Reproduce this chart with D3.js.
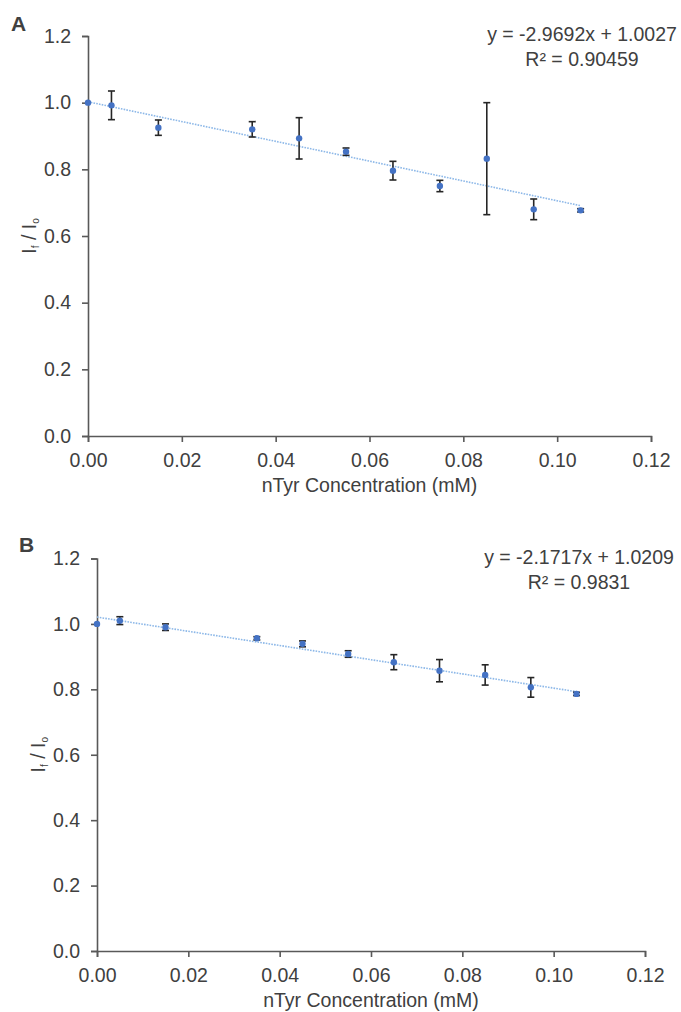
<!DOCTYPE html>
<html>
<head>
<meta charset="utf-8">
<script src="https://cdn.jsdelivr.net/npm/d3@7"></script>
<style>
    body { margin: 0; background: #fff; }
    text { font-family: "Liberation Sans", Arial, sans-serif; fill: #404040; }
</style>
</head>
<body>
<div id="chart"></div>
<script>
(function () {

    const conc = [0, 0.005, 0.015, 0.035, 0.045, 0.055, 0.065, 0.075, 0.085, 0.095, 0.105]

    const ratioA = [1.0, 0.992, 0.925, 0.920, 0.893, 0.853, 0.796, 0.750, 0.832, 0.680, 0.677]
    const errA = [0, 0.043, 0.023, 0.023, 0.062, 0.011, 0.028, 0.017, 0.168, 0.031, 0.005]
    const fitA = [-2.9692, 1.0027]
    const eqA = ["y = -2.9692x + 1.0027", "R² = 0.90459"]

    const ratioB = [1.0, 1.010, 0.990, 0.956, 0.939, 0.908, 0.883, 0.857, 0.844, 0.806, 0.786]
    const errB = [0, 0.012, 0.010, 0.005, 0.009, 0.010, 0.023, 0.034, 0.031, 0.030, 0.005]
    const fitB = [-2.1717, 1.0209]
    const eqB = ["y = -2.1717x + 1.0209", "R² = 0.9831"]

    const xTicks = [0, 0.02, 0.04, 0.06, 0.08, 0.10, 0.12]
    const yTicks = [0, 0.2, 0.4, 0.6, 0.8, 1.0, 1.2]

    const fontSize = 19.5

    const svg = d3.select("#chart")
        .append("svg")
        .attr("width", 681)
        .attr("height", 1012);

    function drawPanel(p) {
        const x = d3.scaleLinear().domain([0, 0.12]).range([p.left, p.right])
        const y = d3.scaleLinear().domain([0, 1.2]).range([p.bottom, p.top])
        const g = svg.append("g")

        const yAxis = g.append("g")
            .attr("transform", `translate(${p.left},0)`)
            .call(d3.axisLeft(y).tickValues(yTicks).tickFormat(d3.format(".1f")).tickSize(6).tickPadding(11))
        const xAxis = g.append("g")
            .attr("transform", `translate(0,${p.bottom})`)
            .call(d3.axisBottom(x).tickValues(xTicks).tickFormat(d3.format(".2f")).tickSize(6).tickPadding(11))

        for (const ax of [xAxis, yAxis]) {
            ax.selectAll("path, line").attr("stroke", "#595959").attr("stroke-width", 1.6)
            ax.selectAll("text").style("font-size", `${fontSize}px`).attr("fill", "#404040")
        }

        // trend line
        g.append("line")
            .attr("x1", x(0)).attr("y1", y(p.fit[1]))
            .attr("x2", x(conc[conc.length - 1]))
            .attr("y2", y(p.fit[0] * conc[conc.length - 1] + p.fit[1]))
            .attr("stroke", "#8db8e8")
            .attr("stroke-width", 1.6)
            .attr("stroke-dasharray", "1.6,1.2")

        const rows = conc.map((c, i) => ({ c, v: p.vals[i], e: p.errs[i] }))

        const bars = g.append("g")
            .selectAll("g")
            .data(rows.filter(d => d.e > 0))
            .enter()
            .append("g")
            .attr("stroke", "#262626")
            .attr("stroke-width", 1.6)
        bars.append("line")
            .attr("x1", d => x(d.c)).attr("x2", d => x(d.c))
            .attr("y1", d => y(d.v + d.e)).attr("y2", d => y(d.v - d.e))
        bars.append("line")
            .attr("x1", d => x(d.c) - 3.5).attr("x2", d => x(d.c) + 3.5)
            .attr("y1", d => y(d.v + d.e)).attr("y2", d => y(d.v + d.e))
        bars.append("line")
            .attr("x1", d => x(d.c) - 3.5).attr("x2", d => x(d.c) + 3.5)
            .attr("y1", d => y(d.v - d.e)).attr("y2", d => y(d.v - d.e))

        g.append("g")
            .selectAll("circle")
            .data(rows)
            .enter()
            .append("circle")
            .attr("cx", d => x(d.c))
            .attr("cy", d => y(d.v))
            .attr("r", 3.2)
            .attr("fill", "#4472c4")

        // equation
        g.selectAll("text.eq")
            .data(p.eq)
            .enter()
            .append("text")
            .attr("class", "eq")
            .attr("x", p.eqX)
            .attr("y", (d, i) => p.eqY + i * 25)
            .attr("text-anchor", "middle")
            .style("font-size", `${fontSize}px`)
            .text(d => d)

        // panel letter
        g.append("text")
            .attr("x", p.letterX).attr("y", p.letterY)
            .style("font-size", "21px")
            .style("font-weight", "bold")
            .attr("fill", "#000")
            .text(p.letter)

        // axis titles
        g.append("text")
            .attr("x", (p.left + p.right) / 2)
            .attr("y", p.bottom + 56)
            .attr("text-anchor", "middle")
            .style("font-size", `${fontSize}px`)
            .text("nTyr Concentration (mM)")

        const yl = g.append("text")
            .attr("transform", `translate(${p.left - 52},${(p.top + p.bottom) / 2}) rotate(-90)`)
            .attr("text-anchor", "middle")
            .style("font-size", `${fontSize}px`)
        yl.append("tspan").text("I")
        yl.append("tspan").attr("dy", 3).style("font-size", "10px").text("f")
        yl.append("tspan").attr("dy", -3).text(" / I")
        yl.append("tspan").attr("dy", 3).style("font-size", "10px").text("o")
    }

    drawPanel({
        letter: "A", letterX: 11, letterY: 31,
        left: 88, right: 651, top: 36, bottom: 436,
        vals: ratioA, errs: errA, fit: fitA, eq: eqA, eqX: 582, eqY: 41
    })

    drawPanel({
        letter: "B", letterX: 19, letterY: 552,
        left: 97, right: 645, top: 558.5, bottom: 951,
        vals: ratioB, errs: errB, fit: fitB, eq: eqB, eqX: 579, eqY: 564
    })
})()
</script>
</body>
</html>
